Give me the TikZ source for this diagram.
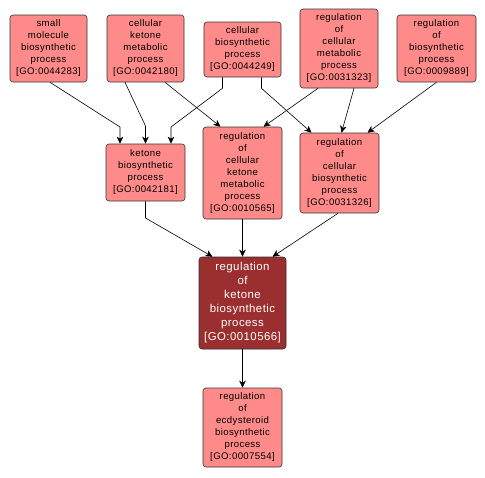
\documentclass[tikz,border=0pt]{standalone}
\usepackage{fontspec}
\setmainfont[LetterSpace=4]{Liberation Sans}
\usetikzlibrary{arrows.meta}
\definecolor{lightred}{RGB}{255,138,138}
\definecolor{darkred}{RGB}{155,46,46}
\tikzset{
  gobox/.style={draw=black!80, line width=0.6pt, rounded corners=3pt, fill=lightred,
    align=center, inner sep=0pt, font=\fontsize{9.6}{12}\selectfont},
  focusbox/.style={gobox, fill=darkred, text=white, font=\fontsize{11.4}{14}\selectfont},
  edge/.style={draw=black, line width=0.6pt, -{Stealth[length=7pt,width=6.5pt,inset=2pt]}}
}
\begin{document}
\begin{tikzpicture}[x=1pt,y=-1pt]
\useasboundingbox[fill=white] (0,0) rectangle (485,477);
\node[gobox, minimum width=77pt, minimum height=67pt] (n1) at (48.5,48.5) {small\\molecule\\biosynthetic\\process\\{}[GO:0044283]};
\node[gobox, minimum width=77pt, minimum height=67pt] (n2) at (145.5,48.5) {cellular\\ketone\\metabolic\\process\\{}[GO:0042180]};
\node[gobox, minimum width=77pt, minimum height=55pt] (n3) at (242.5,49.5) {cellular\\biosynthetic\\process\\{}[GO:0044249]};
\node[gobox, minimum width=78pt, minimum height=79pt] (n4) at (339,48.5) {regulation\\of\\cellular\\metabolic\\process\\{}[GO:0031323]};
\node[gobox, minimum width=79pt, minimum height=67pt] (n5) at (436.5,48.5) {regulation\\of\\biosynthetic\\process\\{}[GO:0009889]};
\node[gobox, minimum width=79pt, minimum height=57pt] (n6) at (145.5,172.5) {ketone\\biosynthetic\\process\\{}[GO:0042181]};
\node[gobox, minimum width=79pt, minimum height=92pt] (n7) at (242.5,173) {regulation\\of\\cellular\\ketone\\metabolic\\process\\{}[GO:0010565]};
\node[gobox, minimum width=79pt, minimum height=80pt] (n8) at (339.5,173) {regulation\\of\\cellular\\biosynthetic\\process\\{}[GO:0031326]};
\node[focusbox, minimum width=87pt, minimum height=92pt] (n9) at (242.5,303) {regulation\\of\\ketone\\biosynthetic\\process\\{}[GO:0010566]};
\node[gobox, minimum width=79pt, minimum height=79pt] (n10) at (242.5,427.5) {regulation\\of\\ecdysteroid\\biosynthetic\\process\\{}[GO:0007554]};

\draw[edge] ([xshift=1.5pt]n1.south) -- (120,127) -- ([xshift=-25.5pt]n6.north);
\draw[edge] ([xshift=-20.5pt]n2.south) -- (145.5,126) -- (n6.north);
\draw[edge] ([xshift=-20pt]n3.south) -- ++(0,11) -- (171,127) -- ([xshift=25.5pt]n6.north);
\draw[edge] ([xshift=19.5pt]n2.south) -- ([xshift=-22pt]n7.north);
\draw[edge] ([xshift=-21pt]n4.south) -- ([xshift=21pt]n7.north);
\draw[edge] ([xshift=19pt]n3.south) -- ++(0,11) -- ([xshift=-28pt]n8.north);
\draw[edge] ([xshift=15pt]n4.south) -- ([xshift=2pt]n8.north);
\draw[edge] (n5.south) -- ([xshift=28pt]n8.north);
\draw[edge] (n6.south) -- (145.5,218) -- ([xshift=-30pt]n9.north);
\draw[edge] (n7.south) -- (n9.north);
\draw[edge] ([xshift=-1.5pt]n8.south) -- ([xshift=30pt]n9.north);
\draw[edge] (n9.south) -- (n10.north);
\end{tikzpicture}
\end{document}
